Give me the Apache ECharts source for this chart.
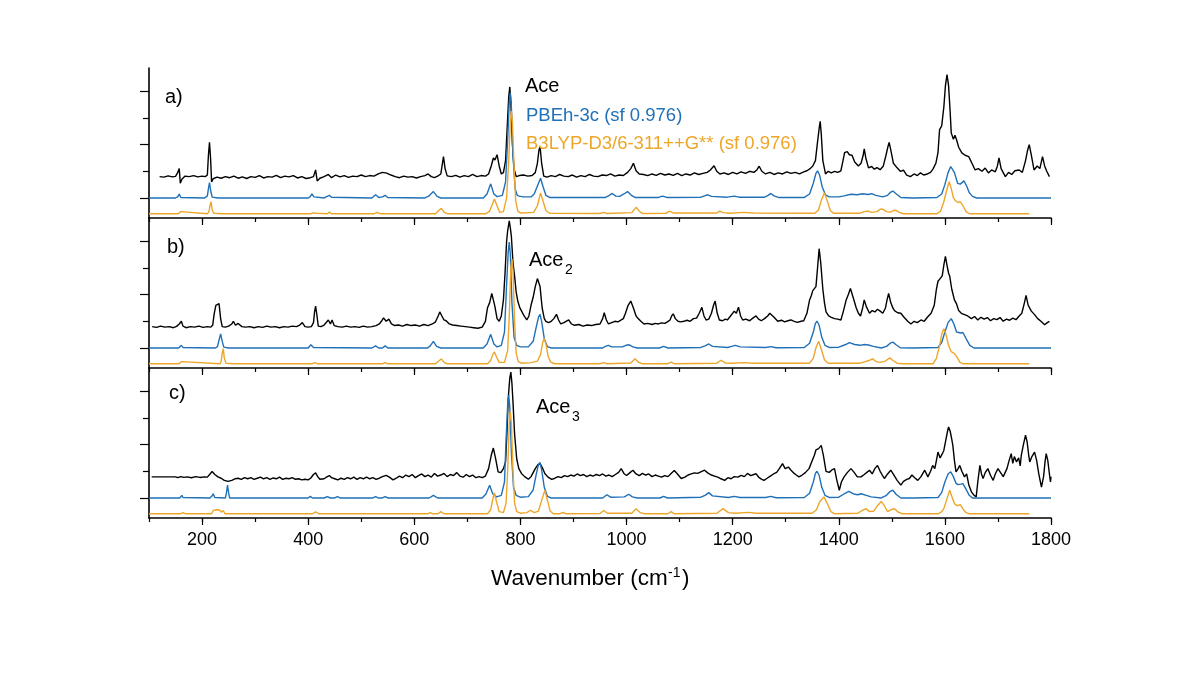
<!DOCTYPE html>
<html>
<head>
<meta charset="utf-8">
<script src="https://cdn.jsdelivr.net/npm/echarts/dist/echarts.min.js"></script>
<style>
    * { margin: 0; padding: 0; }
    body { background: #ffffff; }
    #main { width: 1194px; height: 673px; }
</style>
</head>
<body>
<div id="main"></div>
<script>
// x axis: wavenumber (cm-1), y axis: intensity in tick units (blue baseline = 0)
var X_MIN = 100, X_MAX = 1800;
var X_LABELS = [200, 400, 600, 800, 1000, 1200, 1400, 1600, 1800];
var Y_MAJOR = [0, 2, 4];
var Y_MINOR = [1, 3];
var PANEL_TAGS = ['a)', 'b)', 'c)'];
var PANEL_NAMES = ['Ace', 'Ace', 'Ace'];
var PANEL_SUBS = ['', '2', '3'];
var LEGEND_PBE = 'PBEh-3c (sf 0.976)';
var LEGEND_B3 = 'B3LYP-D3/6-311++G** (sf 0.976)';
var X_NAME = 'Wavenumber (cm';
var X_NAME_SUP = '-1';

// B3LYP traces are read from their own baseline, drawn below the PBEh-3c trace
var B3_SHIFT = -0.59;

// experimental spectra (black)
var expA = [[120,0.80],[128,0.78],[136,0.83],[144,0.79],[150,0.81],[154,0.95],[157,1.10],[159,0.55],[162,0.70],[168,0.82],[176,0.80],[184,0.84],[192,0.79],[200,0.82],[206,0.80],[210,0.86],[212,1.60],[214,2.09],[216,1.50],[218,0.60],[221,0.72],[228,0.78],[236,0.74],[244,0.80],[252,0.76],[260,0.82],[268,0.74],[276,0.79],[284,0.73],[292,0.80],[300,0.77],[308,0.84],[316,0.75],[324,0.80],[332,0.78],[340,0.85],[348,0.76],[356,0.82],[364,0.79],[372,0.84],[380,0.75],[388,0.80],[396,0.73],[404,0.76],[410,0.80],[414,1.05],[417,0.64],[422,0.74],[430,0.80],[438,0.88],[444,0.76],[452,0.86],[460,0.79],[468,0.84],[476,0.77],[484,0.82],[492,0.80],[500,0.86],[508,0.80],[516,0.84],[524,0.82],[532,0.90],[540,0.96],[548,0.93],[556,0.86],[564,0.80],[572,0.76],[580,0.82],[588,0.78],[596,0.80],[604,0.75],[612,0.80],[620,0.84],[626,0.90],[632,0.80],[638,0.76],[644,0.82],[650,0.90],[653,1.30],[655,1.55],[658,1.10],[662,0.83],[670,0.80],[678,0.85],[686,0.78],[694,0.84],[702,0.80],[710,0.88],[718,0.80],[726,0.84],[734,0.82],[740,0.90],[745,1.20],[749,1.50],[752,1.42],[756,1.62],[760,1.20],[764,0.90],[768,0.95],[772,1.40],[775,2.60],[778,3.80],[780,4.16],[782,3.60],[785,2.00],[788,1.10],[792,0.80],[798,0.84],[806,0.86],[814,0.82],[822,0.84],[828,0.95],[832,1.30],[835,1.80],[837,1.93],[840,1.30],[844,0.82],[850,0.78],[858,0.84],[866,0.80],[874,0.88],[882,0.82],[890,0.80],[898,0.86],[906,0.78],[914,0.84],[922,0.80],[930,0.88],[938,0.82],[946,0.80],[954,0.86],[962,0.84],[970,0.90],[978,0.82],[986,0.86],[994,0.84],[1002,0.96],[1008,1.10],[1013,1.30],[1018,1.02],[1024,0.90],[1032,0.88],[1040,0.84],[1048,0.90],[1056,0.85],[1064,0.92],[1072,0.86],[1080,0.90],[1088,0.85],[1096,0.92],[1104,0.84],[1112,0.90],[1120,0.86],[1128,0.94],[1136,0.88],[1144,0.92],[1152,0.96],[1158,1.05],[1165,1.21],[1170,1.00],[1176,0.90],[1184,0.94],[1192,0.88],[1200,0.96],[1208,0.90],[1216,0.98],[1224,0.92],[1232,1.00],[1240,0.96],[1246,1.06],[1250,1.19],[1255,1.00],[1262,0.90],[1270,0.96],[1278,0.88],[1286,0.94],[1294,0.90],[1302,0.98],[1310,0.92],[1318,0.96],[1326,0.90],[1334,0.98],[1340,1.02],[1346,1.10],[1351,1.20],[1356,1.40],[1360,2.10],[1363,2.60],[1365,2.87],[1367,2.40],[1370,1.40],[1375,0.90],[1380,1.00],[1386,0.94],[1392,1.00],[1398,0.96],[1404,1.02],[1408,1.40],[1411,1.70],[1416,1.74],[1420,1.62],[1425,1.60],[1430,1.35],[1437,1.20],[1442,1.30],[1446,1.60],[1448,1.84],[1451,1.50],[1456,1.13],[1462,1.18],[1467,1.08],[1472,1.14],[1478,1.06],[1484,1.20],[1489,1.60],[1493,1.95],[1495,2.08],[1498,1.80],[1503,1.30],[1510,1.13],[1516,1.00],[1522,1.04],[1528,0.86],[1535,0.80],[1542,0.90],[1548,0.84],[1554,0.94],[1560,0.86],[1567,0.90],[1573,0.96],[1578,1.10],[1583,1.30],[1587,1.70],[1590,2.56],[1594,2.70],[1598,3.40],[1601,4.20],[1604,4.62],[1607,4.20],[1610,3.20],[1612,2.44],[1616,2.20],[1619,2.35],[1622,2.18],[1626,1.90],[1632,1.69],[1638,1.60],[1645,1.55],[1651,1.30],[1657,1.05],[1663,1.10],[1670,1.00],[1676,1.12],[1682,0.94],[1688,1.05],[1695,0.98],[1699,1.20],[1702,1.50],[1706,1.10],[1714,0.80],[1720,0.96],[1726,0.88],[1732,1.02],[1740,1.05],[1746,0.96],[1752,1.40],[1756,1.80],[1759,2.00],[1763,1.60],[1768,1.05],[1774,1.20],[1779,1.10],[1784,1.55],[1788,1.20],[1792,1.00],[1797,0.80]];

var expB = [[106,0.80],[114,0.77],[122,0.82],[130,0.78],[138,0.80],[146,0.76],[152,0.81],[157,0.90],[161,1.00],[164,0.82],[170,0.76],[178,0.80],[186,0.78],[194,0.82],[202,0.77],[210,0.80],[216,0.78],[220,0.85],[223,1.30],[226,1.60],[229,1.55],[232,1.66],[235,1.10],[238,0.80],[244,0.78],[250,0.82],[256,0.90],[259,1.00],[263,0.85],[268,0.92],[271,0.95],[275,0.80],[282,0.78],[290,0.80],[298,0.76],[306,0.80],[314,0.77],[322,0.82],[330,0.78],[338,0.80],[346,0.76],[354,0.80],[362,0.78],[370,0.82],[378,0.80],[384,0.86],[389,0.95],[394,0.80],[400,0.78],[406,0.80],[410,0.95],[412,1.35],[414,1.57],[416,1.30],[419,0.82],[424,0.80],[430,0.86],[438,1.05],[442,0.90],[445,1.05],[449,0.84],[456,0.80],[464,0.78],[472,0.82],[480,0.78],[488,0.80],[496,0.77],[504,0.82],[512,0.78],[520,0.80],[528,0.84],[534,0.90],[538,1.00],[542,1.13],[547,1.00],[552,1.08],[557,0.90],[563,0.84],[570,0.86],[578,0.82],[586,0.88],[594,0.84],[602,0.86],[610,0.82],[618,0.88],[626,0.84],[634,0.90],[640,0.98],[645,1.20],[648,1.35],[652,1.20],[656,1.05],[660,1.02],[666,0.90],[672,0.86],[680,0.84],[688,0.82],[696,0.80],[704,0.78],[712,0.76],[720,0.74],[728,0.78],[734,1.00],[738,1.51],[742,1.70],[746,2.04],[749,1.80],[752,1.55],[756,1.10],[760,1.00],[764,1.20],[768,1.80],[771,2.80],[774,4.00],[776,4.40],[779,4.76],[781,4.50],[783,4.17],[786,3.20],[789,2.70],[792,2.10],[795,1.76],[799,1.50],[803,1.35],[807,1.20],[812,1.05],[816,1.20],[820,1.60],[824,1.90],[828,2.30],[832,2.60],[834,2.66],[837,2.30],[841,1.50],[845,1.10],[848,1.00],[853,0.95],[858,1.00],[863,1.10],[868,1.26],[872,1.05],[876,0.90],[882,0.95],[886,1.00],[891,1.05],[896,0.90],[902,0.85],[910,0.88],[918,0.82],[926,0.86],[934,0.84],[942,0.88],[950,0.90],[955,1.10],[958,1.32],[962,1.05],[966,0.90],[972,0.95],[978,1.00],[984,0.98],[990,1.05],[994,1.10],[998,1.30],[1003,1.60],[1008,1.76],[1013,1.50],[1018,1.20],[1021,1.12],[1027,1.00],[1033,0.90],[1040,0.92],[1048,0.88],[1054,0.92],[1060,0.90],[1066,0.94],[1072,0.92],[1077,0.98],[1082,1.05],[1085,1.20],[1088,1.28],[1092,1.10],[1097,1.00],[1102,0.98],[1108,1.00],[1114,1.04],[1120,1.00],[1126,1.10],[1132,1.12],[1137,1.30],[1142,1.52],[1146,1.20],[1150,1.05],[1155,1.08],[1160,1.30],[1164,1.60],[1167,1.76],[1171,1.30],[1175,1.05],[1181,1.02],[1186,1.08],[1190,1.05],[1196,1.20],[1200,1.30],[1203,1.38],[1207,1.30],[1211,1.53],[1215,1.20],[1219,1.05],[1225,1.08],[1232,1.02],[1238,1.12],[1244,1.20],[1249,1.08],[1254,1.02],[1260,1.10],[1266,1.20],[1270,1.30],[1273,1.35],[1278,1.15],[1285,1.00],[1292,1.04],[1298,0.98],[1304,1.02],[1310,1.05],[1316,1.00],[1322,0.96],[1329,1.00],[1334,1.02],[1340,1.30],[1345,1.80],[1348,1.95],[1351,2.15],[1354,2.20],[1357,2.30],[1360,3.00],[1363,3.72],[1366,3.20],[1370,2.20],[1373,1.70],[1376,1.35],[1381,1.20],[1386,1.15],[1392,1.10],[1398,1.08],[1404,1.05],[1409,1.40],[1414,1.80],[1418,2.00],[1422,2.23],[1427,1.90],[1433,1.50],[1437,1.30],[1441,1.20],[1445,1.50],[1448,1.80],[1452,1.55],[1458,1.30],[1463,1.40],[1468,1.35],[1473,1.45],[1478,1.38],[1483,1.30],[1488,1.50],[1491,1.80],[1494,2.04],[1498,1.70],[1502,1.50],[1505,1.40],[1511,1.32],[1517,1.30],[1523,1.15],[1530,1.00],[1536,0.90],[1542,1.00],[1548,0.95],[1555,1.05],[1561,1.00],[1567,1.15],[1574,1.30],[1580,1.60],[1584,2.20],[1587,2.50],[1591,2.60],[1595,2.70],[1598,3.10],[1601,3.43],[1604,3.10],[1607,2.80],[1609,2.70],[1613,2.20],[1618,1.80],[1622,1.65],[1626,1.40],[1631,1.30],[1637,1.25],[1643,1.20],[1650,1.10],[1656,1.18],[1662,1.05],[1668,1.15],[1674,1.08],[1680,1.14],[1686,1.02],[1692,1.10],[1698,1.06],[1704,1.14],[1710,1.00],[1716,1.08],[1722,1.04],[1728,1.12],[1734,1.06],[1740,1.20],[1745,1.30],[1750,1.70],[1753,1.97],[1757,1.60],[1763,1.38],[1769,1.25],[1775,1.10],[1781,1.00],[1788,0.87],[1793,0.95],[1797,1.00]];

var expC = [[105,0.79],[150,0.79],[154,0.76],[160,0.80],[166,0.77],[172,0.79],[180,0.76],[188,0.80],[196,0.77],[204,0.79],[210,0.78],[215,0.90],[219,0.99],[224,0.88],[230,0.79],[236,0.74],[242,0.66],[245,0.60],[249,0.62],[252,0.57],[256,0.66],[262,0.72],[268,0.74],[274,0.70],[280,0.76],[286,0.72],[292,0.76],[298,0.70],[304,0.74],[310,0.78],[316,0.72],[322,0.76],[328,0.70],[334,0.75],[340,0.72],[346,0.78],[352,0.70],[358,0.74],[364,0.72],[370,0.76],[376,0.70],[382,0.72],[388,0.68],[394,0.70],[400,0.68],[405,0.75],[410,0.88],[414,0.94],[418,0.80],[422,0.70],[425,0.66],[430,0.72],[436,0.80],[440,0.84],[444,0.76],[450,0.72],[456,0.68],[462,0.74],[468,0.70],[474,0.76],[480,0.72],[486,0.78],[492,0.70],[498,0.76],[504,0.72],[510,0.78],[516,0.72],[522,0.76],[528,0.70],[534,0.74],[540,0.80],[547,0.85],[553,0.78],[560,0.68],[566,0.74],[572,0.82],[578,0.76],[584,0.86],[590,0.80],[596,0.88],[602,0.76],[608,0.84],[614,0.90],[620,0.80],[626,0.86],[632,0.78],[638,0.92],[644,0.82],[650,0.86],[656,0.92],[662,0.80],[668,0.88],[674,0.84],[680,0.95],[686,0.82],[692,0.78],[698,0.88],[704,0.80],[710,0.86],[716,0.76],[722,0.80],[728,0.76],[734,0.82],[740,1.10],[745,1.60],[749,1.87],[753,1.50],[758,0.98],[763,0.95],[768,1.10],[772,1.35],[775,2.60],[777,3.72],[780,4.50],[782,4.72],[784,4.30],[786,3.60],[789,2.40],[793,1.47],[797,1.10],[802,0.92],[808,0.80],[815,0.70],[820,0.80],[824,0.95],[828,1.10],[833,1.25],[837,1.29],[841,1.15],[846,0.92],[852,0.78],[859,0.70],[865,0.74],[871,0.80],[877,0.76],[883,0.84],[889,0.80],[895,0.86],[901,0.82],[907,0.90],[913,0.84],[919,0.88],[925,0.80],[931,0.86],[937,0.82],[943,0.88],[949,0.84],[955,0.90],[961,0.82],[967,0.86],[973,0.80],[979,0.88],[985,0.96],[990,1.10],[995,0.92],[1000,0.84],[1006,0.94],[1012,1.04],[1018,0.90],[1024,0.84],[1030,0.92],[1036,0.86],[1042,0.90],[1048,0.80],[1054,0.86],[1060,0.82],[1066,0.78],[1072,0.84],[1078,0.80],[1084,0.92],[1090,1.03],[1096,0.90],[1103,0.73],[1110,0.78],[1116,0.86],[1122,0.90],[1128,0.94],[1134,0.92],[1140,0.98],[1147,1.04],[1153,0.94],[1160,0.86],[1166,0.82],[1172,0.78],[1178,0.72],[1185,0.66],[1191,0.76],[1197,0.72],[1203,0.80],[1210,0.78],[1216,0.85],[1222,0.80],[1228,0.92],[1234,0.84],[1240,0.88],[1244,0.91],[1250,0.76],[1255,0.70],[1259,0.66],[1265,0.74],[1271,0.82],[1277,0.90],[1283,0.96],[1288,1.10],[1294,1.29],[1299,1.10],[1305,1.16],[1310,1.04],[1316,0.92],[1320,0.86],[1325,0.79],[1331,0.86],[1337,0.95],[1344,1.10],[1350,1.40],[1354,1.60],[1357,1.80],[1362,1.85],[1367,1.97],[1371,1.60],[1376,1.00],[1382,0.96],[1387,1.05],[1392,1.10],[1396,0.70],[1401,0.29],[1405,0.60],[1410,0.79],[1416,0.95],[1423,1.10],[1429,0.96],[1435,0.79],[1442,0.79],[1448,0.88],[1453,0.96],[1458,1.04],[1463,0.90],[1468,1.10],[1473,1.22],[1478,1.00],[1482,0.86],[1486,0.73],[1492,0.90],[1498,1.04],[1504,0.86],[1510,0.66],[1517,0.48],[1522,0.62],[1528,0.70],[1533,0.73],[1538,0.86],[1543,0.76],[1549,0.66],[1555,0.80],[1562,1.04],[1568,0.79],[1573,1.00],[1577,1.22],[1581,1.10],[1584,1.40],[1587,1.72],[1591,1.50],[1595,1.65],[1598,1.78],[1602,2.20],[1605,2.50],[1607,2.66],[1610,2.50],[1613,2.20],[1615,1.97],[1618,1.40],[1621,0.98],[1625,1.10],[1628,1.22],[1632,1.00],[1637,0.79],[1641,0.90],[1645,0.50],[1650,0.23],[1655,0.10],[1659,0.04],[1662,0.60],[1666,1.22],[1669,0.90],[1672,0.73],[1676,0.95],[1681,1.10],[1686,0.85],[1691,0.66],[1695,0.90],[1700,1.10],[1705,0.95],[1710,0.80],[1713,0.79],[1717,1.10],[1721,1.40],[1725,1.66],[1728,1.30],[1731,1.55],[1735,1.35],[1739,1.50],[1742,1.20],[1744,1.60],[1748,2.00],[1752,2.35],[1755,2.10],[1758,1.60],[1760,1.35],[1764,1.55],[1769,1.72],[1773,1.40],[1777,0.90],[1782,0.41],[1786,0.80],[1789,1.40],[1791,1.66],[1794,1.40],[1797,0.90],[1799,0.60],[1800,0.80]];

// PBEh-3c calculated spectra (blue)
var pbeA = [[100,0],[150,0],[154,0.04],[157,0.15],[160,0.02],[205,0],[210,0.08],[212,0.35],[214,0.58],[216,0.30],[219,0.03],[230,0],[400,0],[404,0.05],[407,0.15],[411,0.04],[430,0],[436,0.06],[440,0.10],[444,0.03],[520,0],[527,0.12],[533,0.02],[540,0.04],[545,0.10],[550,0.02],[620,0],[628,0.08],[636,0.24],[643,0.06],[650,0],[730,0],[737,0.15],[744,0.53],[750,0.15],[756,0.05],[766,0.10],[772,0.60],[776,2.20],[779,3.60],[781,3.94],[783,3.40],[786,1.60],[790,0.35],[794,0.10],[798,0.07],[805,0.04],[820,0.04],[826,0.15],[832,0.45],[838,0.74],[843,0.40],[848,0.10],[855,0.02],[960,0.02],[966,0.08],[973,0.17],[980,0.07],[987,0.06],[995,0.15],[1002,0.24],[1009,0.10],[1016,0.02],[1060,0.02],[1068,0.07],[1076,0.02],[1140,0.03],[1147,0.08],[1153,0.12],[1160,0.06],[1190,0.03],[1203,0.07],[1212,0.03],[1260,0.03],[1267,0.10],[1272,0.17],[1278,0.08],[1286,0.02],[1335,0.02],[1345,0.15],[1352,0.55],[1357,0.92],[1360,1.02],[1364,0.85],[1369,0.40],[1375,0.12],[1382,0.04],[1400,0.04],[1410,0.08],[1423,0.14],[1435,0.12],[1445,0.16],[1455,0.13],[1462,0.16],[1470,0.10],[1483,0.04],[1492,0.10],[1498,0.22],[1502,0.26],[1508,0.16],[1517,0.02],[1540,0],[1585,0.02],[1594,0.15],[1600,0.50],[1606,0.95],[1611,1.18],[1614,1.21],[1618,0.95],[1624,0.55],[1629,0.52],[1636,0.64],[1641,0.45],[1646,0.20],[1652,0.06],[1660,0],[1800,0]];

var pbeB = [[100,0],[156,0],[159,0.04],[161,0.10],[164,0.02],[225,0],[229,0.05],[232,0.30],[235,0.53],[238,0.25],[241,0.03],[250,0],[400,0],[405,0.12],[410,0.02],[520,0],[527,0.08],[533,0],[540,0],[545,0.08],[550,0],[625,0],[630,0.08],[636,0.25],[642,0.06],[650,0],[730,0],[737,0.15],[744,0.51],[750,0.15],[756,0.04],[764,0.10],[770,0.60],[774,2.40],[777,3.60],[779,3.97],[781,3.50],[784,1.70],[788,0.40],[793,0.10],[800,0.04],[815,0.04],[824,0.25],[830,0.80],[834,1.15],[837,1.26],[840,1.00],[845,0.35],[851,0.05],[858,0],[955,0],[960,0.06],[966,0.10],[972,0.04],[992,0.04],[999,0.10],[1005,0.12],[1012,0.04],[1020,0],[1062,0],[1070,0.06],[1078,0],[1140,0.02],[1148,0.08],[1155,0.15],[1162,0.06],[1190,0.02],[1198,0.06],[1205,0.10],[1214,0.04],[1262,0.02],[1272,0.05],[1282,0.01],[1335,0.02],[1345,0.18],[1352,0.60],[1356,0.92],[1359,1.01],[1363,0.85],[1368,0.40],[1374,0.10],[1382,0.02],[1400,0.03],[1412,0.12],[1420,0.20],[1430,0.13],[1440,0.10],[1448,0.13],[1456,0.11],[1465,0.06],[1480,0],[1490,0.06],[1497,0.18],[1502,0.22],[1508,0.12],[1516,0.01],[1540,0],[1587,0.02],[1594,0.20],[1600,0.60],[1606,0.95],[1612,1.10],[1617,0.90],[1622,0.60],[1625,0.54],[1630,0.56],[1634,0.58],[1640,0.35],[1647,0.10],[1655,0],[1800,0]];

var pbeC = [[100,0],[158,0],[160,0.04],[162,0.10],[164,0.02],[215,0],[219,0.08],[221,0.16],[224,0.02],[244,0],[246,0.20],[248,0.48],[250,0.20],[252,0],[400,0],[404,0.06],[408,0],[430,0],[436,0.05],[442,0],[450,0],[455,0.05],[460,0],[522,0],[527,0.05],[532,0],[540,0],[545,0.05],[550,0],[628,0],[636,0.10],[644,0],[728,0],[735,0.15],[742,0.48],[748,0.15],[755,0.04],[764,0.10],[770,0.60],[773,2.20],[776,3.50],[778,3.86],[780,3.40],[783,1.70],[787,0.40],[792,0.10],[800,0.03],[815,0.05],[824,0.30],[830,0.90],[834,1.25],[837,1.33],[840,1.05],[845,0.40],[851,0.06],[858,0],[955,0],[963,0.12],[970,0.03],[996,0.04],[1004,0.14],[1011,0.04],[1020,0],[1063,0],[1070,0.06],[1077,0],[1140,0.03],[1148,0.10],[1155,0.20],[1162,0.08],[1192,0.02],[1203,0.06],[1214,0.02],[1262,0.02],[1272,0.06],[1282,0.01],[1335,0.02],[1345,0.18],[1352,0.60],[1356,0.92],[1359,1.00],[1363,0.85],[1368,0.40],[1374,0.10],[1382,0.02],[1400,0.03],[1410,0.15],[1419,0.25],[1428,0.15],[1436,0.12],[1442,0.16],[1452,0.10],[1461,0.04],[1480,0],[1490,0.10],[1497,0.25],[1502,0.29],[1508,0.14],[1517,0],[1540,0],[1587,0.02],[1594,0.20],[1600,0.60],[1606,0.90],[1611,0.98],[1616,0.80],[1621,0.55],[1625,0.50],[1630,0.52],[1634,0.54],[1640,0.32],[1646,0.10],[1652,0],[1800,0]];

// B3LYP-D3 calculated spectra (orange), from own baseline
var b3A = [[100,0],[155,0],[158,0.03],[160,0.08],[163,0.02],[210,0],[213,0.08],[215,0.30],[217,0.45],[219,0.15],[222,0.02],[240,0],[405,0],[409,0.03],[412,0.08],[416,0.02],[436,0],[440,0.06],[444,0],[525,0],[530,0.05],[535,0],[545,0],[548,0.05],[552,0],[640,0],[646,0.12],[651,0.20],[656,0.06],[662,0],[735,0],[742,0.10],[747,0.35],[751,0.55],[756,0.30],[761,0.05],[768,0.08],[774,0.60],[778,2.00],[781,3.50],[783,3.85],[785,3.40],[788,1.80],[791,0.50],[795,0.10],[800,0.03],[825,0.05],[832,0.30],[838,0.78],[843,0.45],[848,0.12],[855,0.02],[950,0.01],[957,0.05],[963,0.01],[1010,0.04],[1018,0.24],[1025,0.08],[1030,0.01],[1075,0.02],[1081,0.10],[1088,0.03],[1170,0.03],[1176,0.10],[1182,0.04],[1195,0.02],[1220,0.05],[1240,0.03],[1355,0.02],[1362,0.15],[1367,0.50],[1373,0.79],[1378,0.50],[1384,0.12],[1390,0.02],[1440,0.02],[1448,0.08],[1455,0.10],[1462,0.05],[1472,0.08],[1478,0.17],[1483,0.17],[1490,0.08],[1497,0.06],[1503,0.12],[1508,0.13],[1514,0.05],[1522,0],[1585,0],[1592,0.10],[1598,0.45],[1603,0.85],[1608,1.20],[1612,0.95],[1616,0.60],[1620,0.48],[1625,0.42],[1629,0.45],[1634,0.30],[1640,0.08],[1646,0],[1759,0]];

var b3B = [[100,0],[157,0],[159,0.03],[161,0.08],[163,0.01],[234,0],[236,0.10],[238,0.40],[240,0.56],[242,0.20],[245,0.02],[260,0],[408,0],[412,0.04],[414,0.06],[418,0],[540,0],[545,0.04],[550,0],[640,0],[646,0.10],[651,0.18],[656,0.05],[662,0],[738,0],[744,0.12],[748,0.35],[751,0.44],[755,0.25],[760,0.05],[770,0.05],[776,0.50],[779,1.80],[782,3.60],[784,3.93],[786,3.50],[789,1.60],[792,0.40],[796,0.08],[802,0.02],[820,0.04],[832,0.10],[838,0.35],[842,0.80],[845,0.94],[848,0.75],[852,0.30],[857,0.06],[865,0],[950,0],[957,0.04],[963,0],[1008,0.03],[1016,0.19],[1023,0.05],[1030,0],[1078,0],[1084,0.06],[1090,0],[1170,0.02],[1178,0.13],[1186,0.03],[1200,0.02],[1220,0.04],[1240,0.02],[1345,0.02],[1352,0.20],[1357,0.60],[1362,0.84],[1367,0.55],[1373,0.15],[1380,0.02],[1440,0.02],[1450,0.08],[1457,0.12],[1464,0.19],[1470,0.08],[1478,0.05],[1488,0.10],[1496,0.22],[1502,0.12],[1510,0.02],[1520,0],[1578,0],[1584,0.20],[1590,0.68],[1594,1.10],[1598,1.31],[1602,1.10],[1607,0.68],[1612,0.45],[1618,0.38],[1623,0.25],[1628,0.06],[1634,0],[1759,0]];

var b3C = [[100,0],[160,0],[164,0.04],[168,0],[218,0],[221,0.12],[224,0.06],[227,0.15],[230,0.08],[233,0.14],[236,0.06],[240,0.12],[243,0],[408,0],[414,0.07],[420,0],[626,0],[630,0.04],[634,0],[645,0],[650,0.08],[656,0],[738,0],[744,0.15],[748,0.55],[751,0.78],[755,0.45],[760,0.08],[768,0.04],[773,0.40],[776,1.60],[779,3.40],[781,3.82],[783,3.40],[786,1.60],[789,0.40],[793,0.08],[800,0.02],[812,0.04],[819,0.13],[826,0.04],[834,0.10],[840,0.50],[846,0.88],[851,0.50],[856,0.10],[862,0],[875,0],[880,0.05],[886,0],[950,0.01],[957,0.12],[964,0.02],[1010,0.02],[1018,0.19],[1026,0.04],[1034,0],[1078,0],[1084,0.08],[1090,0],[1170,0.02],[1182,0.19],[1192,0.04],[1205,0.02],[1230,0.05],[1245,0.02],[1350,0.02],[1358,0.15],[1364,0.45],[1372,0.63],[1378,0.40],[1385,0.08],[1392,0],[1436,0.02],[1444,0.12],[1451,0.19],[1458,0.08],[1466,0.10],[1473,0.30],[1480,0.46],[1486,0.30],[1492,0.08],[1500,0.16],[1505,0.19],[1512,0.06],[1520,0],[1588,0],[1594,0.08],[1598,0.19],[1603,0.50],[1609,0.88],[1614,0.60],[1618,0.38],[1623,0.30],[1629,0.34],[1635,0.15],[1640,0.04],[1646,0],[1759,0]];

var EXP = [expA, expB, expC];
var PBE = [pbeA, pbeB, pbeC];
var B3 = [b3A, b3B, b3C];

var BLUE = '#1f70b8';
var ORANGE = '#eea62a';
var FONT = '"Liberation Sans", Arial, sans-serif';

var chart = echarts.init(document.getElementById('main'));

var panelTop = [68, 218, 368];
var grids = [], xAxes = [], yAxes = [], series = [];

for (var i = 0; i < 3; i++) {
    grids.push({left: 149, width: 902, top: panelTop[i], height: 150});
}

// main axes: line + minor x ticks + major y ticks
for (var i = 0; i < 3; i++) {
    xAxes.push({
        type: 'value', gridIndex: i, min: X_MIN, max: X_MAX, interval: 100, position: 'bottom',
        axisLine: {onZero: false, lineStyle: {color: '#000', width: 1.6}},
        axisTick: {length: 4, lineStyle: {color: '#000', width: 1.2}},
        axisLabel: {
            show: i === 2, margin: 13, color: '#000', fontSize: 18, fontFamily: FONT,
            formatter: function (v) { return X_LABELS.indexOf(v) >= 0 ? String(v) : ''; }
        },
        splitLine: {show: false}
    });
    yAxes.push({
        type: 'value', gridIndex: i, min: -0.75, max: 4.87, position: 'left',
        axisLine: {show: true, onZero: false, lineStyle: {color: '#000', width: 1.6}},
        axisTick: {customValues: Y_MAJOR, length: 9, lineStyle: {color: '#000', width: 1.2}},
        axisLabel: {show: false},
        splitLine: {show: false}
    });
}
// overlay axes: longer x ticks at the labels, shorter y ticks between
for (var i = 0; i < 3; i++) {
    xAxes.push({
        type: 'value', gridIndex: i, min: X_MIN, max: X_MAX, position: 'bottom',
        axisLine: {show: false, onZero: false},
        axisTick: {customValues: X_LABELS, length: 7, lineStyle: {color: '#000', width: 1.2}},
        axisLabel: {show: false},
        splitLine: {show: false}
    });
    yAxes.push({
        type: 'value', gridIndex: i, min: -0.75, max: 4.87, position: 'left',
        axisLine: {show: false, onZero: false},
        axisTick: {customValues: Y_MINOR, length: 6, lineStyle: {color: '#000', width: 1.2}},
        axisLabel: {show: false},
        splitLine: {show: false}
    });
}

for (var i = 0; i < 3; i++) {
    series.push({
        type: 'line', xAxisIndex: i, yAxisIndex: i, data: EXP[i],
        showSymbol: false, lineStyle: {color: '#000', width: 1.4}, z: 2
    });
    series.push({
        type: 'line', xAxisIndex: i, yAxisIndex: i, data: PBE[i],
        showSymbol: false, lineStyle: {color: BLUE, width: 1.4}, z: 3
    });
    series.push({
        type: 'line', xAxisIndex: i, yAxisIndex: i,
        data: B3[i].map(function (p) { return [p[0], p[1] + B3_SHIFT]; }),
        showSymbol: false, lineStyle: {color: ORANGE, width: 1.4}, z: 4
    });
}

function label(text, x, y, size, color) {
    return {
        type: 'text', z: 10,
        style: {text: text, x: x, y: y, fill: color || '#000', fontSize: size, fontFamily: FONT, textVerticalAlign: 'middle'}
    };
}

var tagPos = [[165, 97], [167, 247], [169, 393]];
var namePos = [[525, 86], [529, 260], [536, 407]];
var graphics = [];
for (var i = 0; i < 3; i++) {
    graphics.push(label(PANEL_TAGS[i], tagPos[i][0], tagPos[i][1], 20));
    graphics.push(label(PANEL_NAMES[i], namePos[i][0], namePos[i][1], 20));
    if (PANEL_SUBS[i]) {
        graphics.push(label(PANEL_SUBS[i], namePos[i][0] + 36, namePos[i][1] + 10, 14));
    }
}
graphics.push(label(LEGEND_PBE, 526, 116, 18.5, BLUE));
graphics.push(label(LEGEND_B3, 526, 144, 18.5, ORANGE));
graphics.push(label(X_NAME, 491, 579, 22.5));
graphics.push(label(X_NAME_SUP, 668, 573, 14));
graphics.push(label(')', 682, 579, 22.5));

var option = {
    backgroundColor: '#ffffff',
    animation: false,
    grid: grids,
    xAxis: xAxes,
    yAxis: yAxes,
    series: series,
    graphic: graphics
};

chart.setOption(option);
</script>
</body>
</html>
